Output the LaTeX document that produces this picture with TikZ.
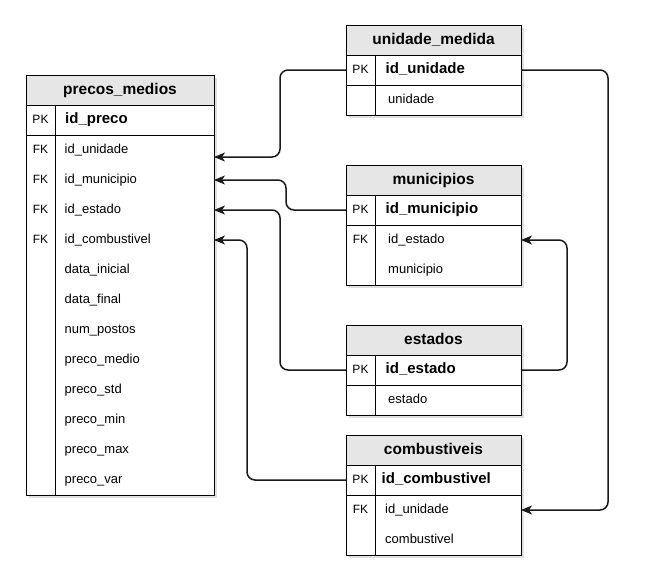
\documentclass[tikz,border=0pt]{standalone}
\usepackage{fontspec}
\setmainfont{Liberation Sans}
\usetikzlibrary{arrows.meta}
\definecolor{hdrgray}{HTML}{E6E6E6}
\definecolor{linec}{HTML}{1A1A1A}
\begin{document}
\begin{tikzpicture}[x=1pt,y=-1pt,
  tbl/.style={draw=black, line width=0.9pt, fill=white},
  sep/.style={draw=black, line width=0.9pt},
  hdr/.style={draw=black, line width=0.9pt, fill=hdrgray, minimum height=30pt, inner sep=0pt, outer sep=0pt, anchor=north west, text height=0.95em, text depth=0.08em, font=\bfseries\fontsize{15.5}{18}\selectfont},
  rowbox/.style={minimum height=30pt, inner sep=0pt, outer sep=0pt, anchor=north west},
  keytag/.style={inner sep=0pt, text height=0.905em, text depth=0.212em, font=\fontsize{12}{14}\selectfont},
  pkname/.style={inner sep=0pt, anchor=west, text height=0.905em, text depth=0.212em, font=\bfseries\fontsize{15}{17}\selectfont},
  attr/.style={inner sep=0pt, anchor=west, text height=0.905em, text depth=0.18em, font=\fontsize{13}{15}\selectfont},
  shade/.style={fill=black, opacity=0.12},
  rel/.style={draw=linec, line width=1.5pt, rounded corners=8pt, -{Stealth[length=11pt,width=9pt,inset=3pt]}}
]
\fill[white] (0,0) rectangle (649,587);
\useasboundingbox (0,0) rectangle (649,587);

% ---------- row anchors ----------
% precos_medios
\foreach \n/\y in {pk/105,unidade/135,municipio/165,estado/195,combustivel/225,inicial/255,final/285,postos/315,medio/345,std/375,min/405,max/435,var/465}
  \node[rowbox, minimum width=188pt] (pm-\n) at (26,\y) {};
% unidade_medida
\node[rowbox, minimum width=175pt] (um-pk) at (346,55) {};
\node[rowbox, minimum width=175pt] (um-unid) at (346,85) {};
% municipios
\node[rowbox, minimum width=175pt] (mu-pk) at (346,195) {};
\node[rowbox, minimum width=175pt] (mu-estado) at (346,225) {};
\node[rowbox, minimum width=175pt] (mu-nome) at (346,255) {};
% estados
\node[rowbox, minimum width=175pt] (es-pk) at (346,355) {};
\node[rowbox, minimum width=175pt] (es-nome) at (346,385) {};
% combustiveis
\node[rowbox, minimum width=175pt] (co-pk) at (346,465) {};
\node[rowbox, minimum width=175pt] (co-unidade) at (346,495) {};
\node[rowbox, minimum width=175pt] (co-nome) at (346,525) {};

% ---------- shadows ----------
\fill[shade] (28.5,77.5) rectangle (216.5,497.5);
\fill[shade] (348.5,27.5) rectangle (523.5,117.5);
\fill[shade] (348.5,167.5) rectangle (523.5,287.5);
\fill[shade] (348.5,327.5) rectangle (523.5,417.5);
\fill[shade] (348.5,437.5) rectangle (523.5,557.5);

% ---------- precos_medios ----------
\draw[tbl] (pm-pk.north west) rectangle (pm-var.south east);
\draw[sep] (pm-pk.south west) -- (pm-pk.south east);
\draw[sep] (55,105) -- (55,495);
\node[hdr, minimum width=188pt] (pm) at (26,75) {precos\_medios};
\node[keytag] (pm-pk-k) at (40.5,120) {PK};
\node[pkname] (pm-pk-t) at (65,120) {id\_preco};
\node[keytag] (pm-unidade-k) at (40.5,150) {FK};
\node[attr] (pm-unidade-t) at (64.5,150) {id\_unidade};
\node[keytag] (pm-municipio-k) at (40.5,180) {FK};
\node[attr] (pm-municipio-t) at (64.5,180) {id\_municipio};
\node[keytag] (pm-estado-k) at (40.5,210) {FK};
\node[attr] (pm-estado-t) at (64.5,210) {id\_estado};
\node[keytag] (pm-combustivel-k) at (40.5,240) {FK};
\node[attr] (pm-combustivel-t) at (64.5,240) {id\_combustivel};
\node[attr] (pm-inicial-t) at (64.5,270) {data\_inicial};
\node[attr] (pm-final-t) at (64.5,300) {data\_final};
\node[attr] (pm-postos-t) at (64.5,330) {num\_postos};
\node[attr] (pm-medio-t) at (64.5,360) {preco\_medio};
\node[attr] (pm-std-t) at (64.5,390) {preco\_std};
\node[attr] (pm-min-t) at (64.5,420) {preco\_min};
\node[attr] (pm-max-t) at (64.5,450) {preco\_max};
\node[attr] (pm-var-t) at (64.5,480) {preco\_var};

% ---------- unidade_medida ----------
\draw[tbl] (um-pk.north west) rectangle (um-unid.south east);
\draw[sep] (um-pk.south west) -- (um-pk.south east);
\draw[sep] (375,55) -- (375,115);
\node[hdr, minimum width=175pt] (um) at (346,25) {unidade\_medida};
\node[keytag] (um-pk-k) at (360.5,70) {PK};
\node[pkname] (um-pk-t) at (385.5,70) {id\_unidade};
\node[attr] (um-unid-t) at (388,100) {unidade};

% ---------- municipios ----------
\draw[tbl] (mu-pk.north west) rectangle (mu-nome.south east);
\draw[sep] (mu-pk.south west) -- (mu-pk.south east);
\draw[sep] (375,195) -- (375,285);
\node[hdr, minimum width=175pt] (mu) at (346,165) {municipios};
\node[keytag] (mu-pk-k) at (360.5,210) {PK};
\node[pkname] (mu-pk-t) at (385.5,210) {id\_municipio};
\node[keytag] (mu-estado-k) at (360.5,240) {FK};
\node[attr] (mu-estado-t) at (388,240) {id\_estado};
\node[attr] (mu-nome-t) at (388,270) {municipio};

% ---------- estados ----------
\draw[tbl] (es-pk.north west) rectangle (es-nome.south east);
\draw[sep] (es-pk.south west) -- (es-pk.south east);
\draw[sep] (375,355) -- (375,415);
\node[hdr, minimum width=175pt] (es) at (346,325) {estados};
\node[keytag] (es-pk-k) at (360.5,370) {PK};
\node[pkname] (es-pk-t) at (385.5,370) {id\_estado};
\node[attr] (es-nome-t) at (388,400) {estado};

% ---------- combustiveis ----------
\draw[tbl] (co-pk.north west) rectangle (co-nome.south east);
\draw[sep] (co-pk.south west) -- (co-pk.south east);
\draw[sep] (375,465) -- (375,555);
\node[hdr, minimum width=175pt] (co) at (346,435) {combustiveis};
\node[keytag] (co-pk-k) at (360.5,480) {PK};
\node[pkname] (co-pk-t) at (381.5,480) {id\_combustivel};
\node[keytag] (co-unidade-k) at (360.5,510) {FK};
\node[attr] (co-unidade-t) at (385,510) {id\_unidade};
\node[attr] (co-nome-t) at (385,540) {combustivel};

% ---------- relationships ----------
\coordinate (pm-unidade-in) at ([yshift=-7pt]pm-unidade.east);
\draw[rel] (um-pk.west) -- ++(-66,0) |- (pm-unidade-in);
\draw[rel] (mu-pk.west) -- ++(-60,0) |- (pm-municipio.east);
\draw[rel] (es-pk.west) -- ++(-66,0) |- (pm-estado.east);
\draw[rel] (co-pk.west) -- ++(-99,0) |- (pm-combustivel.east);
\draw[rel] (um-pk.east) -- ++(87,0) |- (co-unidade.east);
\draw[rel] (es-pk.east) -- ++(46,0) |- (mu-estado.east);
\end{tikzpicture}
\end{document}
